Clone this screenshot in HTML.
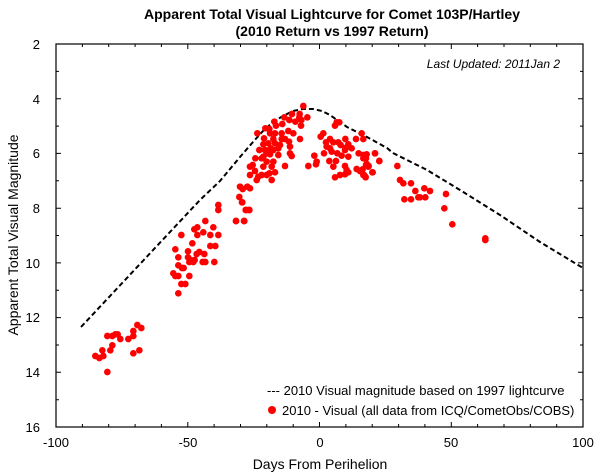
<!DOCTYPE html>
<html><head><meta charset="utf-8"><style>
body{margin:0;background:#fff}
svg{display:block;font-family:"Liberation Sans",sans-serif}
</style></head><body>
<svg width="600" height="476" viewBox="0 0 600 476" xmlns="http://www.w3.org/2000/svg">
<text x="332" y="19" text-anchor="middle" font-size="14" font-weight="bold">Apparent Total Visual Lightcurve for Comet 103P/Hartley</text>
<text x="332" y="36" text-anchor="middle" font-size="14" font-weight="bold">(2010 Return vs 1997 Return)</text>
<rect x="56" y="44" width="527" height="383" fill="none" stroke="#000" stroke-width="1.2"/>
<g stroke="#000" stroke-width="1">
<path d="M56 44h5M56 98.7h5M56 153.4h5M56 208.2h5M56 262.9h5M56 317.6h5M56 372.3h5M583 44h-5M583 98.7h-5M583 153.4h-5M583 208.2h-5M583 262.9h-5M583 317.6h-5M583 372.3h-5"/>
<path d="M56 71.4h3M56 126.1h3M56 180.8h3M56 235.5h3M56 290.3h3M56 345h3M56 399.7h3M583 71.4h-3M583 126.1h-3M583 180.8h-3M583 235.5h-3M583 290.3h-3M583 345h-3M583 399.7h-3"/>
<path d="M187.8 427v-5M319.5 427v-5M451.3 427v-5M187.8 44v5M319.5 44v5M451.3 44v5"/>
<path d="M82.4 427v-3M108.7 427v-3M135.1 427v-3M161.4 427v-3M214.1 427v-3M240.5 427v-3M266.8 427v-3M293.2 427v-3M345.9 427v-3M372.2 427v-3M398.6 427v-3M424.9 427v-3M477.6 427v-3M504 427v-3M530.3 427v-3M556.7 427v-3M82.4 44v3M108.7 44v3M135.1 44v3M161.4 44v3M214.1 44v3M240.5 44v3M266.8 44v3M293.2 44v3M345.9 44v3M372.2 44v3M398.6 44v3M424.9 44v3M477.6 44v3M504 44v3M530.3 44v3M556.7 44v3"/>
</g>
<g font-size="13" text-anchor="end">
<text x="40" y="49">2</text><text x="40" y="104">4</text><text x="40" y="158">6</text><text x="40" y="213">8</text><text x="40" y="268">10</text><text x="40" y="322">12</text><text x="40" y="377">14</text><text x="40" y="432">16</text>
</g>
<g font-size="13" text-anchor="middle">
<text x="56" y="447">-100</text><text x="188" y="447">-50</text><text x="320" y="447">0</text><text x="451" y="447">50</text><text x="583" y="447">100</text>
<text x="320" y="469" font-size="14">Days From Perihelion</text>
<text transform="translate(18,235) rotate(-90)" font-size="14">Apparent Total Visual Magnitude</text>
</g>
<text x="560" y="68" text-anchor="end" font-size="12" font-style="italic">Last Updated: 2011Jan 2</text>
<polyline fill="none" stroke="#000" stroke-width="2" stroke-dasharray="5,3" points="81,327 140,264 200,200 220,181 240,157 253,142 263,131 273,122 283,116 293,111 303,109 313,109 322,111 330,115 347,127 367,137 387,148 393,153 427,170 460,190 500,215 540,242 583,268"/>
<g fill="#f00">
<g transform="translate(60,200) scale(0.3333)">
<circle cx="475" cy="15" r="10"/><circle cx="475" cy="30" r="10"/><circle cx="547" cy="7" r="10"/><circle cx="557" cy="30" r="10"/><circle cx="568" cy="30" r="10"/><circle cx="528" cy="63" r="10"/><circle cx="553" cy="63" r="10"/><circle cx="436" cy="63" r="10"/><circle cx="412" cy="82" r="10"/><circle cx="403" cy="88" r="10"/><circle cx="460" cy="82" r="10"/><circle cx="430" cy="97" r="10"/><circle cx="364" cy="105" r="10"/><circle cx="412" cy="105" r="10"/><circle cx="451" cy="105" r="10"/><circle cx="475" cy="105" r="10"/><circle cx="397" cy="130" r="10"/><circle cx="451" cy="138" r="10"/><circle cx="466" cy="138" r="10"/><circle cx="346" cy="148" r="10"/><circle cx="384" cy="154" r="10"/><circle cx="418" cy="156" r="10"/><circle cx="410" cy="162" r="10"/><circle cx="433" cy="162" r="10"/><circle cx="384" cy="172" r="10"/><circle cx="392" cy="180" r="10"/><circle cx="404" cy="180" r="10"/><circle cx="388" cy="186" r="10"/><circle cx="400" cy="186" r="10"/><circle cx="428" cy="186" r="10"/><circle cx="436" cy="186" r="10"/><circle cx="463" cy="186" r="10"/><circle cx="355" cy="172" r="10"/><circle cx="355" cy="196" r="10"/><circle cx="366" cy="204" r="10"/><circle cx="371" cy="204" r="10"/><circle cx="340" cy="220" r="10"/><circle cx="346" cy="228" r="10"/><circle cx="355" cy="228" r="10"/><circle cx="388" cy="228" r="10"/><circle cx="364" cy="252" r="10"/><circle cx="376" cy="252" r="10"/><circle cx="355" cy="280" r="10"/>
<circle cx="232" cy="375" r="10"/><circle cx="244" cy="384" r="10"/><circle cx="220" cy="393" r="10"/><circle cx="220" cy="408" r="10"/><circle cx="142" cy="408" r="10"/><circle cx="157" cy="408" r="10"/><circle cx="166" cy="403" r="10"/><circle cx="173" cy="403" r="10"/><circle cx="181" cy="417" r="10"/><circle cx="205" cy="417" r="10"/><circle cx="157" cy="436" r="10"/><circle cx="127" cy="451" r="10"/><circle cx="151" cy="451" r="10"/><circle cx="238" cy="451" r="10"/><circle cx="220" cy="460" r="10"/><circle cx="106" cy="468" r="10"/><circle cx="118" cy="474" r="10"/><circle cx="130" cy="468" r="10"/><circle cx="142" cy="516" r="10"/>
</g>
<g transform="translate(220,95) scale(0.3333)">
<circle cx="250" cy="33" r="10"/><circle cx="216" cy="57" r="10"/><circle cx="239" cy="57" r="10"/><circle cx="193" cy="67" r="10"/><circle cx="208" cy="75" r="10"/><circle cx="226" cy="80" r="10"/><circle cx="238" cy="68" r="10"/><circle cx="244" cy="75" r="10"/><circle cx="262" cy="67" r="10"/><circle cx="163" cy="80" r="10"/><circle cx="187" cy="87" r="10"/><circle cx="243" cy="92" r="10"/><circle cx="136" cy="100" r="10"/><circle cx="148" cy="102" r="10"/><circle cx="168" cy="92" r="10"/><circle cx="112" cy="115" r="10"/><circle cx="150" cy="115" r="10"/><circle cx="165" cy="115" r="10"/><circle cx="185" cy="115" r="10"/><circle cx="205" cy="108" r="10"/><circle cx="220" cy="115" r="10"/><circle cx="132" cy="130" r="10"/><circle cx="160" cy="132" r="10"/><circle cx="185" cy="132" r="10"/><circle cx="195" cy="132" r="10"/><circle cx="207" cy="140" r="10"/><circle cx="240" cy="132" r="10"/><circle cx="130" cy="148" r="10"/><circle cx="145" cy="145" r="10"/><circle cx="165" cy="145" r="10"/><circle cx="180" cy="150" r="10"/><circle cx="210" cy="155" r="10"/><circle cx="118" cy="165" r="10"/><circle cx="135" cy="165" r="10"/><circle cx="152" cy="160" r="10"/><circle cx="160" cy="165" r="10"/><circle cx="175" cy="160" r="10"/><circle cx="140" cy="175" r="10"/><circle cx="150" cy="178" r="10"/><circle cx="130" cy="185" r="10"/><circle cx="210" cy="175" r="10"/><circle cx="215" cy="183" r="10"/><circle cx="175" cy="180" r="10"/><circle cx="106" cy="190" r="10"/><circle cx="125" cy="190" r="10"/><circle cx="160" cy="200" r="10"/><circle cx="140" cy="200" r="10"/><circle cx="155" cy="215" r="10"/><circle cx="195" cy="213" r="10"/><circle cx="98" cy="210" r="10"/><circle cx="90" cy="215" r="10"/><circle cx="130" cy="215" r="10"/><circle cx="105" cy="228" r="10"/><circle cx="90" cy="240" r="10"/><circle cx="165" cy="232" r="10"/><circle cx="125" cy="240" r="10"/><circle cx="140" cy="240" r="10"/><circle cx="148" cy="235" r="10"/><circle cx="115" cy="245" r="10"/><circle cx="110" cy="255" r="10"/><circle cx="155" cy="255" r="10"/><circle cx="60" cy="275" r="10"/><circle cx="82" cy="275" r="10"/><circle cx="68" cy="282" r="10"/><circle cx="90" cy="280" r="10"/><circle cx="58" cy="306" r="10"/><circle cx="66" cy="322" r="10"/><circle cx="80" cy="345" r="10"/><circle cx="88" cy="345" r="10"/><circle cx="48" cy="378" r="10"/><circle cx="72" cy="378" r="10"/>
<circle cx="350" cy="82" r="10"/><circle cx="358" cy="82" r="10"/><circle cx="345" cy="92" r="10"/><circle cx="425" cy="115" r="10"/><circle cx="310" cy="115" r="10"/><circle cx="302" cy="125" r="10"/><circle cx="330" cy="132" r="10"/><circle cx="376" cy="132" r="10"/><circle cx="408" cy="132" r="10"/><circle cx="430" cy="132" r="10"/><circle cx="318" cy="142" r="10"/><circle cx="340" cy="142" r="10"/><circle cx="355" cy="142" r="10"/><circle cx="362" cy="150" r="10"/><circle cx="385" cy="148" r="10"/><circle cx="320" cy="155" r="10"/><circle cx="330" cy="160" r="10"/><circle cx="378" cy="158" r="10"/><circle cx="395" cy="160" r="10"/><circle cx="416" cy="175" r="10"/><circle cx="440" cy="178" r="10"/><circle cx="465" cy="175" r="10"/><circle cx="283" cy="182" r="10"/><circle cx="312" cy="175" r="10"/><circle cx="335" cy="170" r="10"/><circle cx="352" cy="175" r="10"/><circle cx="375" cy="165" r="10"/><circle cx="365" cy="182" r="10"/><circle cx="385" cy="185" r="10"/><circle cx="430" cy="190" r="10"/><circle cx="478" cy="198" r="10"/><circle cx="290" cy="200" r="10"/><circle cx="288" cy="208" r="10"/><circle cx="265" cy="213" r="10"/><circle cx="328" cy="198" r="10"/><circle cx="348" cy="198" r="10"/><circle cx="340" cy="215" r="10"/><circle cx="375" cy="213" r="10"/><circle cx="438" cy="210" r="10"/><circle cx="445" cy="215" r="10"/><circle cx="410" cy="222" r="10"/><circle cx="420" cy="228" r="10"/><circle cx="380" cy="225" r="10"/><circle cx="385" cy="232" r="10"/><circle cx="458" cy="232" r="10"/><circle cx="375" cy="238" r="10"/><circle cx="360" cy="240" r="10"/><circle cx="345" cy="247" r="10"/><circle cx="432" cy="240" r="10"/><circle cx="437" cy="247" r="10"/>
</g>
<g transform="translate(360,140) scale(0.3333)">
<circle cx="45" cy="40" r="10"/><circle cx="58" cy="63" r="10"/><circle cx="10" cy="45" r="10"/><circle cx="18" cy="55" r="10"/><circle cx="20" cy="72" r="10"/><circle cx="26" cy="78" r="10"/><circle cx="8" cy="88" r="10"/><circle cx="37" cy="97" r="10"/><circle cx="10" cy="105" r="10"/><circle cx="16" cy="110" r="10"/><circle cx="112" cy="78" r="10"/><circle cx="120" cy="120" r="10"/><circle cx="130" cy="130" r="10"/><circle cx="153" cy="130" r="10"/><circle cx="166" cy="153" r="10"/><circle cx="193" cy="145" r="10"/><circle cx="210" cy="153" r="10"/><circle cx="133" cy="178" r="10"/><circle cx="153" cy="178" r="10"/><circle cx="175" cy="172" r="10"/><circle cx="180" cy="172" r="10"/><circle cx="196" cy="172" r="10"/><circle cx="258" cy="162" r="10"/><circle cx="253" cy="205" r="10"/><circle cx="277" cy="253" r="10"/><circle cx="376" cy="295" r="10"/><circle cx="376" cy="300" r="10"/>
</g>
<circle cx="272" cy="410" r="4"/>
</g>
<text x="267" y="395" font-size="13">--- 2010 Visual magnitude based on 1997 lightcurve</text>
<text x="282" y="415" font-size="13">2010 - Visual (all data from ICQ/CometObs/COBS)</text>
</svg>
</body></html>
